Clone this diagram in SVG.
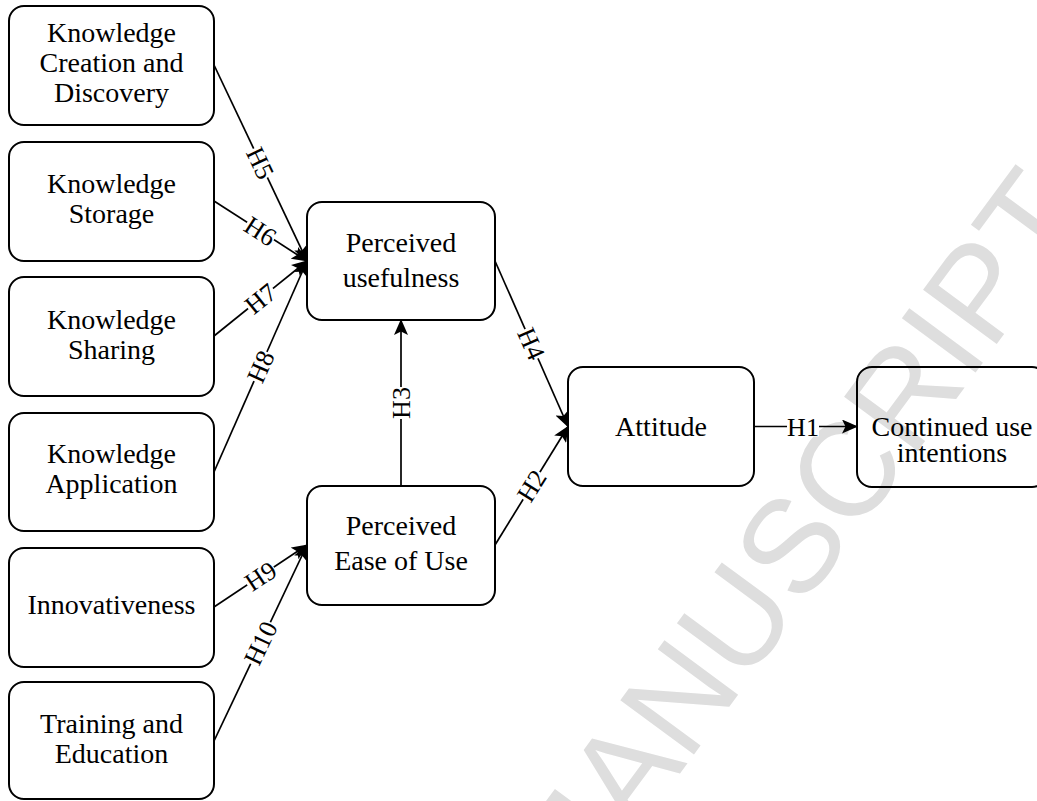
<svg xmlns="http://www.w3.org/2000/svg" width="1037" height="801" viewBox="0 0 1037 801">
<style>
.box{fill:none;stroke:#000;stroke-width:2}
.t{font-family:"Liberation Serif","Times New Roman",serif;font-size:28px;fill:#000;text-anchor:middle}
.c{stroke:#000;stroke-width:1.7;fill:none}
.lb{font-family:"Liberation Serif","Times New Roman",serif;font-size:26px;fill:#000;text-anchor:middle}
.bg{fill:#fff}
.wm{font-family:"Liberation Sans",Arial,sans-serif;font-size:133px;fill:#dedede;text-anchor:end}
</style>
<defs>
<marker id="arr" viewBox="0 0 16 14" refX="15" refY="7" markerWidth="16" markerHeight="14" orient="auto" markerUnits="userSpaceOnUse">
<path d="M0,0 L16,7 L0,14 L3.5,7 z" fill="#000"/>
</marker>
</defs>
<rect width="1037" height="801" fill="#fff"/>
<text class="wm" transform="translate(1091,216) rotate(-53.6)">MANUSCRIPT</text>

<g id="connectors">
<line class="c" x1="214" y1="65" x2="307" y2="261" marker-end="url(#arr)"/>
<line class="c" x1="214" y1="201" x2="307" y2="261" marker-end="url(#arr)"/>
<line class="c" x1="214" y1="336" x2="307" y2="261" marker-end="url(#arr)"/>
<line class="c" x1="214" y1="472" x2="307" y2="261" marker-end="url(#arr)"/>
<line class="c" x1="214" y1="607" x2="307" y2="545" marker-end="url(#arr)"/>
<line class="c" x1="214" y1="741" x2="307" y2="545" marker-end="url(#arr)"/>
<line class="c" x1="401" y1="486" x2="401" y2="320" marker-end="url(#arr)"/>
<line class="c" x1="495" y1="261" x2="568" y2="426.5" marker-end="url(#arr)"/>
<line class="c" x1="495" y1="545" x2="568" y2="426.5" marker-end="url(#arr)"/>
<line class="c" x1="754" y1="426.5" x2="857" y2="426.5" marker-end="url(#arr)"/>
<g transform="translate(260.5,163) rotate(64.6)"><rect class="bg" x="-16" y="-10" width="32" height="20"/><text class="lb" y="9">H5</text></g>
<g transform="translate(260.5,231) rotate(32.8)"><rect class="bg" x="-16" y="-10" width="32" height="20"/><text class="lb" y="9">H6</text></g>
<g transform="translate(260.5,298.5) rotate(-38.9)"><rect class="bg" x="-16" y="-10" width="32" height="20"/><text class="lb" y="9">H7</text></g>
<g transform="translate(260.5,366.5) rotate(-66.2)"><rect class="bg" x="-16" y="-10" width="32" height="20"/><text class="lb" y="9">H8</text></g>
<g transform="translate(260.5,576) rotate(-33.7)"><rect class="bg" x="-16" y="-10" width="32" height="20"/><text class="lb" y="9">H9</text></g>
<g transform="translate(260.5,643) rotate(-64.6)"><rect class="bg" x="-23" y="-10" width="46" height="20"/><text class="lb" y="9">H10</text></g>
<g transform="translate(401,403) rotate(-90)"><rect class="bg" x="-16" y="-10" width="32" height="20"/><text class="lb" y="9">H3</text></g>
<g transform="translate(531.5,343.75) rotate(66.2)"><rect class="bg" x="-16" y="-10" width="32" height="20"/><text class="lb" y="9">H4</text></g>
<g transform="translate(531.5,485.75) rotate(-58.4)"><rect class="bg" x="-16" y="-10" width="32" height="20"/><text class="lb" y="9">H2</text></g>
<g transform="translate(803,426.5)"><rect class="bg" x="-16" y="-10" width="32" height="20"/><text class="lb" y="9">H1</text></g>
</g>

<g id="kcd"><rect class="box" x="9" y="6" width="205" height="119" rx="15"/>
<text class="t" x="111.5" y="42">Knowledge</text><text class="t" x="111.5" y="72">Creation and</text><text class="t" x="111.5" y="102">Discovery</text></g>
<g id="ks"><rect class="box" x="9" y="142" width="205" height="119" rx="15"/>
<text class="t" x="111.5" y="193">Knowledge</text><text class="t" x="111.5" y="223">Storage</text></g>
<g id="ksh"><rect class="box" x="9" y="277" width="205" height="119" rx="15"/>
<text class="t" x="111.5" y="329">Knowledge</text><text class="t" x="111.5" y="359">Sharing</text></g>
<g id="ka"><rect class="box" x="9" y="413" width="205" height="118" rx="15"/>
<text class="t" x="111.5" y="463">Knowledge</text><text class="t" x="111.5" y="493">Application</text></g>
<g id="inn"><rect class="box" x="9" y="548" width="205" height="119" rx="15"/>
<text class="t" x="111.5" y="614">Innovativeness</text></g>
<g id="te"><rect class="box" x="9" y="682" width="205" height="117" rx="15"/>
<text class="t" x="111.5" y="733">Training and</text><text class="t" x="111.5" y="763">Education</text></g>
<g id="pu"><rect class="box" x="307" y="202" width="188" height="118" rx="15"/>
<text class="t" x="401" y="252">Perceived</text><text class="t" x="401" y="287">usefulness</text></g>
<g id="peu"><rect class="box" x="307" y="486" width="188" height="119" rx="15"/>
<text class="t" x="401" y="535">Perceived</text><text class="t" x="401" y="570">Ease of Use</text></g>
<g id="att"><rect class="box" x="568" y="367" width="186" height="119" rx="15"/>
<text class="t" x="661" y="436">Attitude</text></g>
<g id="cui"><rect class="box" x="857" y="367" width="190" height="120" rx="15"/>
<text class="t" x="952" y="436">Continued use</text><text class="t" x="952" y="462">intentions</text></g>
</svg>
